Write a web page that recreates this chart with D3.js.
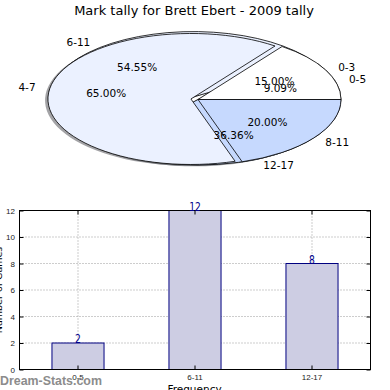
<!DOCTYPE html>
<html><head><meta charset="utf-8">
<script src="https://cdn.jsdelivr.net/npm/d3@7"></script>
<style>body{margin:0;background:#fff}svg{display:block}</style>
</head><body>
<script>
// ---- data ----
const chartTitle = "Mark tally for Brett Ebert - 2009 tally";
const pieALabels = ["0-3", "4-7", "8-11"];
const pieAValues = [3, 13, 4];
const pieBLabels = ["0-5", "6-11", "12-17"];
const pieBValues = [2, 12, 8];
const barCategories = ["0-5", "6-11", "12-17"];
const barValues = [2, 12, 8];
const yTickValues = [0, 2, 4, 6, 8, 10, 12];
const xAxisLabel = "Frequency";
const yAxisLabel = "Number of Games";
const watermark = "Dream-Stats.com";

const sliceColors = ["#ffffff", "#ebf1ff", "#c6d9fe"];

const W = 390, H = 390;
const svg = d3.select("body").append("svg").attr("width", W).attr("height", H)
  .style("font-family", "'DejaVu Sans', sans-serif");

svg.append("text").attr("x", 194).attr("y", 14.5).attr("text-anchor", "middle")
  .attr("font-size", 13).text(chartTitle);

// ---- pies ----
const cx = 198, cy = 99.5, rx = 143, ry = 65.5, explode = 0.05;
const pie = d3.pie().sort(null).value(d => d)
  .startAngle(Math.PI / 2).endAngle(Math.PI / 2 - 2 * Math.PI);
const arc = d3.arc().innerRadius(0).outerRadius(1);
const pct = d3.format(".2f");

const shadowG = svg.append("g");
const pieBG = svg.append("g");
const pieAG = svg.append("g");
const textG = svg.append("g").attr("font-size", 10.5);

function darker(c) {
  const k = d3.rgb(c);
  return d3.rgb(k.r * 0.3, k.g * 0.3, k.b * 0.3).toString();
}

function drawPie(g, labels, values) {
  const arcs = pie(values);
  const total = d3.sum(values);
  const maxI = values.indexOf(d3.max(values));
  arcs.forEach((a, i) => {
    const mid = (a.startAngle + a.endAngle) / 2;
    const ux = Math.sin(mid), uy = -Math.cos(mid);
    const e = i === maxI ? explode : 0;
    const ox = cx + e * ux * rx, oy = cy + e * uy * ry;
    shadowG.append("path").attr("d", arc(a))
      .attr("transform", `translate(${ox - 2.9},${oy + 1.3}) scale(${rx},${ry})`)
      .attr("fill", darker(sliceColors[i])).attr("fill-opacity", 0.5);
    g.append("path").attr("d", arc(a))
      .attr("transform", `translate(${ox},${oy}) scale(${rx},${ry})`)
      .attr("fill", sliceColors[i]).attr("stroke", "#000")
      .attr("stroke-width", 0.8).attr("vector-effect", "non-scaling-stroke");
    textG.append("text")
      .attr("x", ox + 1.1 * rx * ux).attr("y", oy + 1.1 * ry * uy).attr("dy", "0.36em")
      .attr("text-anchor", ux > 0 ? "start" : "end").text(labels[i]);
    textG.append("text")
      .attr("x", ox + 0.6 * rx * ux).attr("y", oy + 0.6 * ry * uy).attr("dy", "0.36em")
      .attr("text-anchor", "middle").text(pct(values[i] / total * 100) + "%");
  });
}
drawPie(pieBG, pieBLabels, pieBValues);
drawPie(pieAG, pieALabels, pieAValues);

// ---- bar chart ----
const m = { l: 19.5, r: 370.5, t: 210.5, b: 369.5 };
const x = d3.scaleBand().domain(barCategories).range([m.l, m.r])
  .paddingInner(0.555).paddingOuter(0.2775);
const y = d3.scaleLinear().domain([0, 12]).range([m.b, m.t]);
const cxBand = d => x(d) + x.bandwidth() / 2;

const grid = svg.append("g").attr("stroke", "#9a9a9a").attr("stroke-width", 1)
  .attr("stroke-dasharray", "1,2");
grid.selectAll(".h").data(yTickValues.filter(v => v > 0 && v < 12)).join("line")
  .attr("x1", m.l).attr("x2", m.r).attr("y1", d => y(d)).attr("y2", d => y(d));

svg.append("g").selectAll("rect").data(barCategories).join("rect")
  .attr("x", d => x(d)).attr("width", x.bandwidth())
  .attr("y", (d, i) => y(barValues[i])).attr("height", (d, i) => m.b - y(barValues[i]))
  .attr("fill", "#cdcde3").attr("stroke", "#000080").attr("stroke-width", 1);

grid.selectAll(".v").data(barCategories).join("line")
  .attr("x1", cxBand).attr("x2", cxBand).attr("y1", m.t).attr("y2", m.b);

const tickFont = "'Liberation Sans', Arial, sans-serif";
const axL = svg.append("g").attr("transform", `translate(${m.l},0)`)
  .call(d3.axisLeft(y).tickValues(yTickValues).tickSize(-4).tickPadding(4.5));
const axR = svg.append("g").attr("transform", `translate(${m.r},0)`)
  .call(d3.axisRight(y).tickValues(yTickValues).tickSize(-4).tickFormat(""));
const axB = svg.append("g").attr("transform", `translate(0,${m.b})`)
  .call(d3.axisBottom(x).tickSize(-4).tickPadding(5));
const axT = svg.append("g").attr("transform", `translate(0,${m.t})`)
  .call(d3.axisTop(x).tickSize(-4).tickFormat(""));
[axL, axR, axB, axT].forEach(a => {
  a.select(".domain").remove();
  a.selectAll("text").attr("font-family", tickFont).attr("font-size", 8).attr("fill", "#222");
});

svg.append("rect").attr("x", m.l).attr("y", m.t).attr("width", m.r - m.l).attr("height", m.b - m.t)
  .attr("fill", "none").attr("stroke", "#000").attr("stroke-width", 1);

svg.append("g").selectAll("text").data(barCategories).join("text")
  .attr("transform", (d, i) => `translate(${cxBand(d)},${y(barValues[i])}) scale(0.8,1)`)
  .attr("text-anchor", "middle").attr("font-size", 11.5).attr("fill", "#00008b")
  .text((d, i) => barValues[i]);

svg.append("text").attr("x", 194.5).attr("y", 393).attr("text-anchor", "middle")
  .attr("font-size", 10.5).text(xAxisLabel);
svg.append("text").attr("transform", `translate(2,${(m.t + m.b) / 2}) rotate(-90)`)
  .attr("text-anchor", "middle").attr("font-size", 9.5).text(yAxisLabel);

svg.append("text").attr("x", 0).attr("y", 385).attr("font-family", tickFont)
  .attr("font-weight", "bold").attr("font-size", 12.4).attr("fill", "#8c8c8c").text(watermark);
</script>
</body></html>
